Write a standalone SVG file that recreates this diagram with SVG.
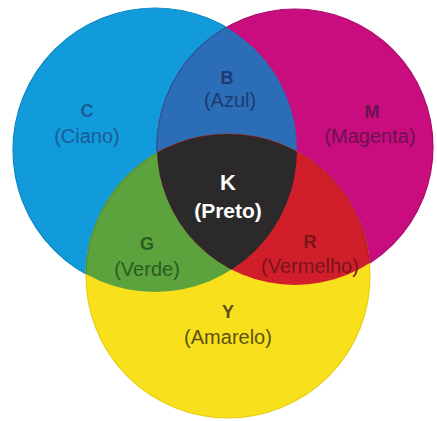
<svg xmlns="http://www.w3.org/2000/svg" width="437" height="421" viewBox="0 0 437 421">
  <defs>
    <clipPath id="clipC"><circle cx="155" cy="150" r="142"/></clipPath>
    <clipPath id="clipM"><circle cx="295" cy="147" r="138"/></clipPath>
    <clipPath id="clipY"><circle cx="228" cy="276" r="142"/></clipPath>
  </defs>
  <style>
    .lbl { font-family: "Liberation Sans", Arial, Helvetica, sans-serif; text-anchor: middle; }
    .key { font-weight: bold; font-size: 18px; }
    .name { font-size: 20px; }
    .edge { stroke-width: 1.2; }
  </style>
  <rect width="437" height="421" fill="#ffffff"/>
  <g id="circles">
    <circle id="cyan" cx="155" cy="150" r="142" fill="#119bda" stroke="#0d86c0" class="edge"/>
    <circle id="magenta" cx="295" cy="147" r="138" fill="#c90d7e" stroke="#a80b69" class="edge"/>
    <circle id="yellow" cx="228" cy="276" r="142" fill="#f8e11c" stroke="#e8cf14" class="edge"/>
  </g>
  <g id="overlaps">
    <g clip-path="url(#clipC)"><circle id="blue" cx="295" cy="147" r="138" fill="#2b6db7" stroke="#245c9c" class="edge"/></g>
    <g clip-path="url(#clipC)"><circle id="green" cx="228" cy="276" r="142" fill="#5da33d" stroke="#4d8c33" class="edge"/></g>
    <g clip-path="url(#clipM)"><circle id="red" cx="228" cy="276" r="142" fill="#d01f2a" stroke="#b01a24" class="edge"/></g>
    <g clip-path="url(#clipC)"><g clip-path="url(#clipM)"><circle id="black" cx="228" cy="276" r="142" fill="#2b2929"/></g></g>
  </g>
  <g id="labels">
    <g id="node-C" fill="#1b5d98">
      <text class="lbl key" x="87" y="117">C</text>
      <text class="lbl name" x="87" y="143">(Ciano)</text>
    </g>
    <g id="node-B" fill="#1d3c72">
      <text class="lbl key" x="227" y="84">B</text>
      <text class="lbl name" x="230" y="107">(Azul)</text>
    </g>
    <g id="node-M" fill="#6b1152">
      <text class="lbl key" x="372" y="118">M</text>
      <text class="lbl name" x="370" y="143">(Magenta)</text>
    </g>
    <g id="node-K" fill="#ffffff">
      <text class="lbl" x="228" y="190" font-weight="bold" font-size="22">K</text>
      <text class="lbl" x="228" y="218" font-weight="bold" font-size="21">(Preto)</text>
    </g>
    <g id="node-G" fill="#2a5c22">
      <text class="lbl key" x="147" y="250">G</text>
      <text class="lbl name" x="147" y="276">(Verde)</text>
    </g>
    <g id="node-R" fill="#7a1419">
      <text class="lbl key" x="310" y="248">R</text>
      <text class="lbl name" x="310" y="273">(Vermelho)</text>
    </g>
    <g id="node-Y" fill="#5c5212">
      <text class="lbl key" x="228" y="318">Y</text>
      <text class="lbl name" x="228" y="344">(Amarelo)</text>
    </g>
  </g>
</svg>
